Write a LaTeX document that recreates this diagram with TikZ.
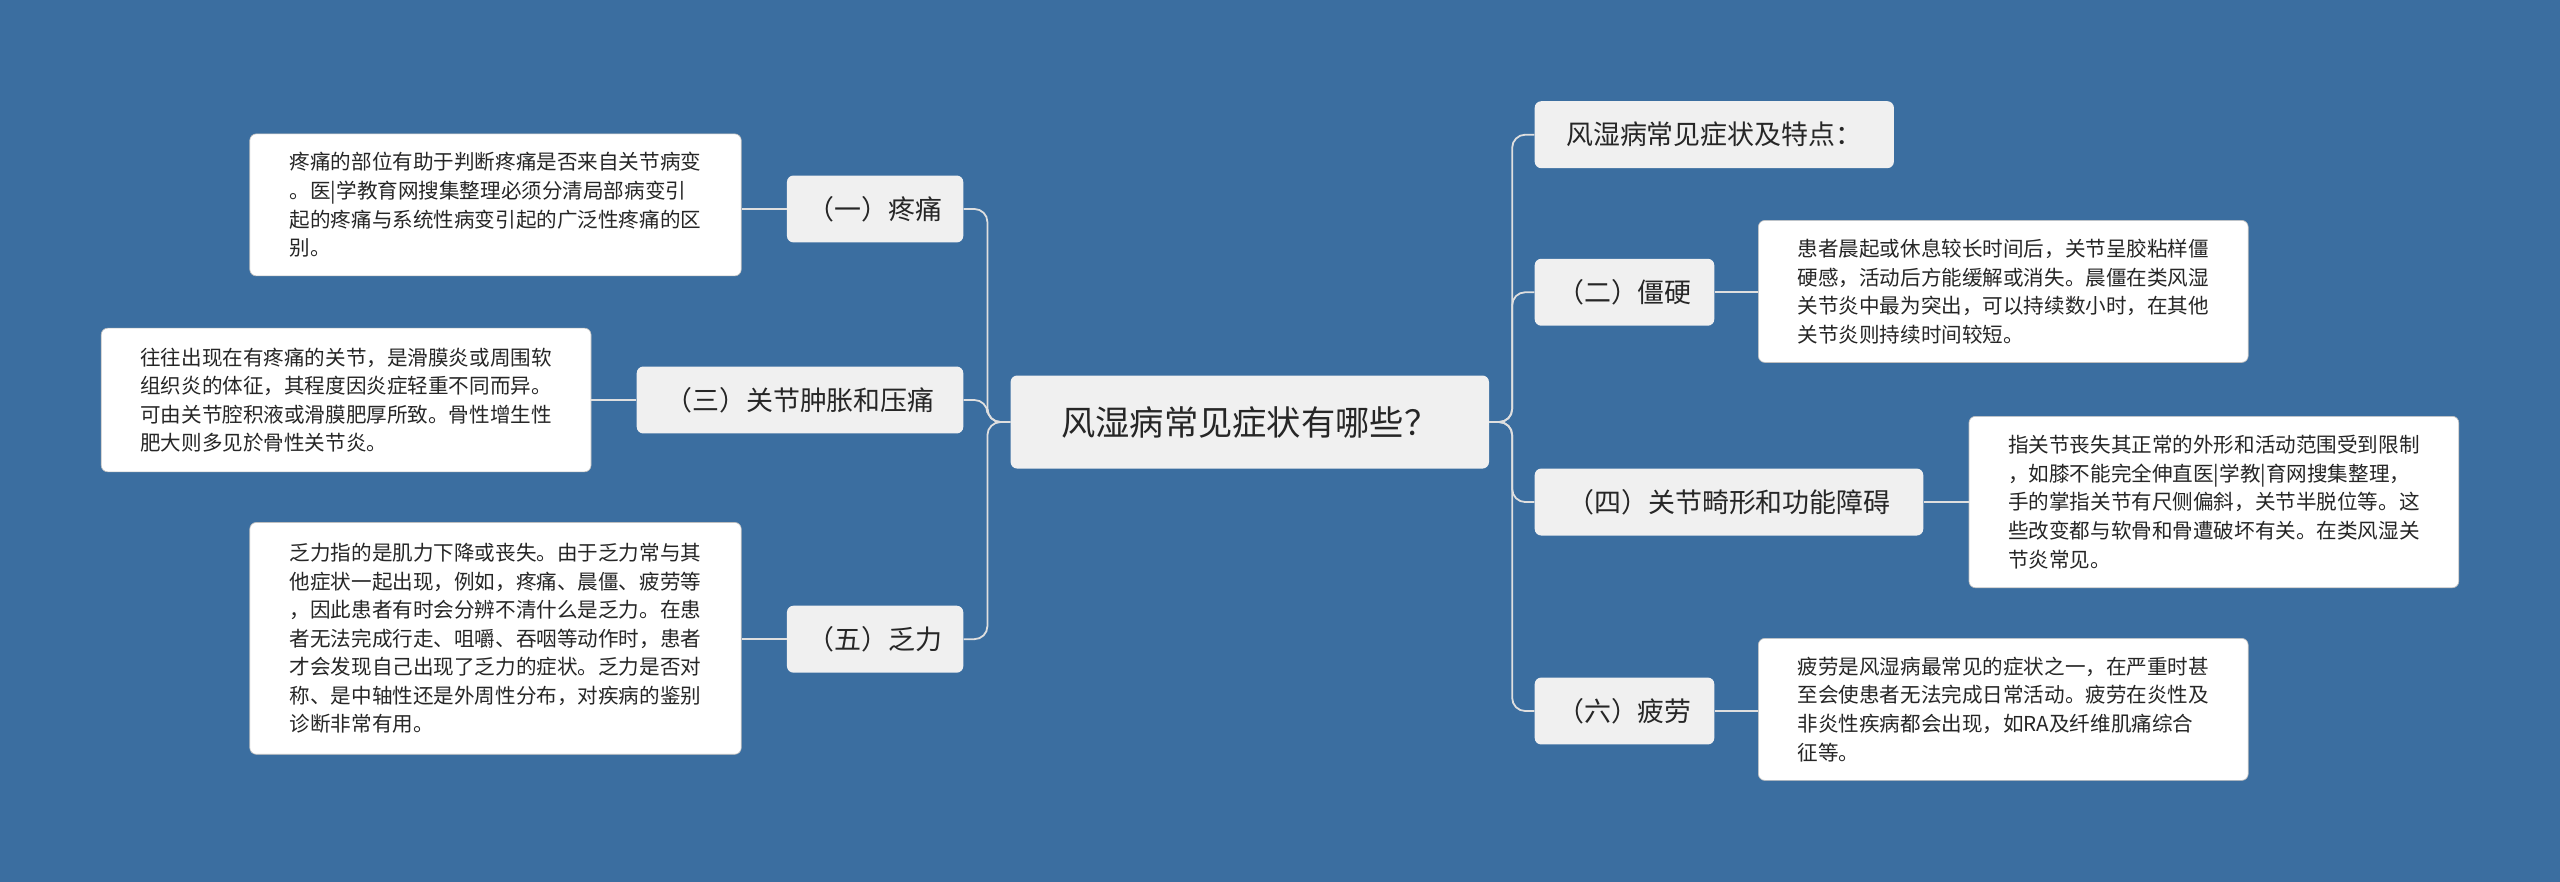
\documentclass[tikz,border=0pt]{standalone}
\usepackage{fontspec}
\setmainfont{Noto Sans CJK SC}
\begin{document}
\begin{tikzpicture}[x=1pt,y=-1pt,
  branch/.style={fill=gray!12,rounded corners=4pt,font=\fontsize{16.5}{20}\selectfont,inner xsep=9pt,minimum height=41pt,text=black!85},
  leaf/.style={fill=white,draw=gray!50,rounded corners=4pt,font=\fontsize{12.6}{17.5}\selectfont,align=left,inner xsep=7pt,inner ysep=6pt,text=black!85},
  conn/.style={draw=gray!25,line width=1.1pt,rounded corners=8pt}]
\fill[fill={rgb,255:red,59;green,110;blue,160}] (0,0) rectangle (1568,540);
\useasboundingbox (0,0) rectangle (1568,540);
\node[branch,font=\fontsize{21}{25}\selectfont,minimum width=293pt,minimum height=57pt] (c) at (765.5,258.5) {风湿病常见症状有哪些？};
\node[branch,minimum width=108pt] (b1) at (536,128) {（一）疼痛};
\node[branch,minimum width=200pt] (b3) at (490,245) {（三）关节肿胀和压痛};
\node[branch,minimum width=108pt] (b5) at (536,391.5) {（五）乏力};
\node[branch,minimum width=220pt] (r0) at (1050,82.5) {风湿病常见症状及特点：};
\node[branch,minimum width=110pt] (b2) at (995,179) {（二）僵硬};
\node[branch,minimum width=238pt] (b4) at (1059,307.5) {（四）关节畸形和功能障碍};
\node[branch,minimum width=110pt] (b6) at (995,435.5) {（六）疲劳};
\node[leaf,minimum width=301pt,minimum height=87pt] (l1) at (303.5,125.5) {疼痛的部位有助于判断疼痛是否来自关节病变\\。医|学教育网搜集整理必须分清局部病变引\\起的疼痛与系统性病变引起的广泛性疼痛的区\\别。};
\node[leaf,minimum width=300pt,minimum height=88pt] (l3) at (212,245) {往往出现在有疼痛的关节，是滑膜炎或周围软\\组织炎的体征，其程度因炎症轻重不同而异。\\可由关节腔积液或滑膜肥厚所致。骨性增生性\\肥大则多见於骨性关节炎。};
\node[leaf,minimum width=301pt,minimum height=142pt] (l5) at (303.5,391) {乏力指的是肌力下降或丧失。由于乏力常与其\\他症状一起出现，例如，疼痛、晨僵、疲劳等\\，因此患者有时会分辨不清什么是乏力。在患\\者无法完成行走、咀嚼、吞咽等动作时，患者\\才会发现自己出现了乏力的症状。乏力是否对\\称、是中轴性还是外周性分布，对疾病的鉴别\\诊断非常有用。};
\node[leaf,minimum width=300pt,minimum height=87pt] (l2) at (1227,178.5) {患者晨起或休息较长时间后，关节呈胶粘样僵\\硬感，活动后方能缓解或消失。晨僵在类风湿\\关节炎中最为突出，可以持续数小时，在其他\\关节炎则持续时间较短。};
\node[leaf,minimum width=300pt,minimum height=105pt] (l4) at (1356,307.5) {指关节丧失其正常的外形和活动范围受到限制\\，如膝不能完全伸直医|学教|育网搜集整理，\\手的掌指关节有尺侧偏斜，关节半脱位等。这\\些改变都与软骨和骨遭破坏有关。在类风湿关\\节炎常见。};
\node[leaf,minimum width=300pt,minimum height=87pt] (l6) at (1227,434.5) {疲劳是风湿病最常见的症状之一，在严重时甚\\至会使患者无法完成日常活动。疲劳在炎性及\\非炎性疾病都会出现，如RA及纤维肌痛综合\\征等。};
\foreach \b in {b1,b3,b5} \draw[conn] (c.west) -- ++(-14,0) |- (\b.east);
\foreach \b in {r0,b2,b4,b6} \draw[conn] (c.east) -- ++(14,0) |- (\b.west);
\draw[conn] (b1.west) -- (l1.east|-b1.west);
\draw[conn] (b3.west) -- (l3.east|-b3.west);
\draw[conn] (b5.west) -- (l5.east|-b5.west);
\draw[conn] (b2.east) -- (l2.west|-b2.east);
\draw[conn] (b4.east) -- (l4.west|-b4.east);
\draw[conn] (b6.east) -- (l6.west|-b6.east);
\end{tikzpicture}
\end{document}
